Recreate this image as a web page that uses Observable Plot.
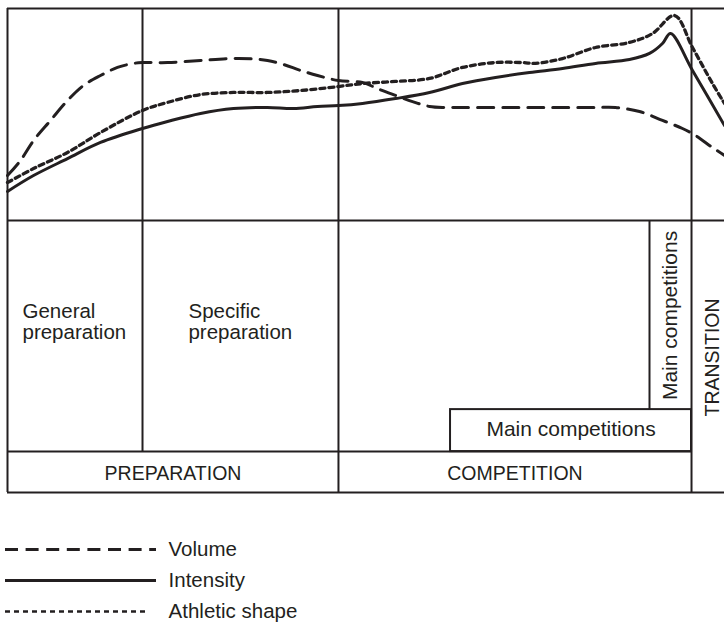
<!DOCTYPE html>
<html>
<head>
<meta charset="utf-8">
<script src="https://cdn.jsdelivr.net/npm/d3@7"></script>
<script src="https://cdn.jsdelivr.net/npm/@observablehq/plot@0.6"></script>
<style>
  html, body { margin: 0; padding: 0; background: #fff; }
  #chart svg, #legend svg { display: block; }
</style>
</head>
<body>
<div id="chart"></div>
<div id="legend"></div>
<script>
// ---- Data (time as % of visible season span, level as relative 0-100) ----
const series = ["Volume", "Intensity", "Athletic shape"];

const volumeX = [0, 1.81, 3.63, 6.0, 8.37, 10.6, 12.97, 15.34, 17.57, 18.83, 22.32, 26.92, 31.52, 34.31, 36.26, 38.49, 40.86, 43.24, 46.16, 49.51, 51.88, 54.11, 56.49, 58.86, 61.09, 63.46, 70.0, 76.0, 82.01, 84.8, 88.15, 91.35, 94.14, 95.96, 98.33, 100];
const volumeY = [21.2, 28.3, 37.7, 47.2, 56.6, 63.7, 68.4, 72.2, 74.1, 74.5, 74.5, 75.5, 76.4, 76.2, 75.5, 73.6, 70.8, 68.4, 66.0, 65.1, 61.8, 59.0, 56.1, 53.8, 53.3, 53.3, 53.3, 53.3, 53.3, 53.3, 51.4, 47.2, 43.4, 40.1, 34.4, 30.7];

const intensityX = [0, 3.63, 8.37, 12.97, 18.83, 22.32, 26.92, 31.52, 36.26, 39.89, 43.24, 46.16, 49.51, 54.11, 58.86, 63.46, 68.06, 72.8, 77.41, 82.01, 86.75, 89.54, 91.35, 92.47, 95.54, 100];
const intensityY = [13.7, 21.2, 29.2, 36.8, 43.4, 46.7, 50.5, 52.8, 53.3, 52.8, 53.8, 54.2, 55.2, 57.5, 60.4, 64.6, 67.5, 69.8, 71.7, 74.1, 75.9, 78.8, 83.5, 88.2, 70.8, 44.8];

const athleticX = [0, 3.63, 8.37, 12.97, 18.83, 22.32, 26.92, 31.52, 36.26, 40.86, 46.16, 49.51, 54.11, 58.86, 63.46, 68.06, 71.83, 73.64, 77.41, 82.01, 86.75, 89.96, 93.03, 95.54, 98.33, 100];
const athleticY = [17.9, 24.5, 32.1, 41.5, 51.9, 55.7, 59.4, 60.4, 60.4, 61.3, 63.2, 64.6, 65.6, 67.0, 72.2, 74.5, 74.5, 74.1, 76.4, 81.6, 84.0, 88.2, 96.7, 81.6, 64.6, 55.2];

const phaseNames = ["PREPARATION", "COMPETITION", "TRANSITION"];
const phaseStart = [0, 46.16, 95.4];
const phaseEnd = [46.16, 95.4, 100];

const subPhaseNames = ["General\npreparation", "Specific\npreparation"];
const subPhaseStart = [0, 18.83];
const subPhaseEnd = [18.83, 46.16];

const mainCompLabel = "Main competitions";
const mainCompStart = 61.79;  // main competitions block
const peakStart = 89.54;      // peak main competitions

// ---- Build tables ----
const toRows = (xs, ys, name) => xs.map((x, i) => ({x, y: ys[i], series: name}));
const volume = toRows(volumeX, volumeY, series[0]);
const intensity = toRows(intensityX, intensityY, series[1]);
const athletic = toRows(athleticX, athleticY, series[2]);

const phases = phaseNames.map((name, i) => ({name, start: phaseStart[i], end: phaseEnd[i]}));
const subPhases = subPhaseNames.map((name, i) => ({name, start: subPhaseStart[i], end: subPhaseEnd[i]}));

// layout levels of the lower table (same y scale, below the curve panel)
const tableBottom = -128.3;
const rowPhaseTop = -109;
const rowMainTop = -89.2;

const ink = "#231f20";
const fw = 2;
const font = "'Liberation Sans', Arial, Helvetica, sans-serif";
const fsCaps = 19.5;
const fsText = 20.5;
const fsMain = 21;

const chart = Plot.plot({
  width: 724,
  height: 500,
  marginLeft: 7,
  marginRight: 0,
  marginTop: 8,
  marginBottom: 8,
  x: {domain: [0, 100], axis: null},
  y: {domain: [tableBottom, 100], axis: null},
  style: {fontFamily: font, background: "white", color: ink, overflow: "visible"},
  marks: [
    // frame
    Plot.ruleY([100, 0, tableBottom], {x1: 0, x2: 100, stroke: ink, strokeWidth: fw}),
    Plot.ruleY([rowPhaseTop], {x1: 0, x2: phaseEnd[1], stroke: ink, strokeWidth: fw}),
    Plot.ruleX([0], {y1: tableBottom, y2: 100, stroke: ink, strokeWidth: fw}),
    Plot.ruleX([subPhases[1].start], {y1: rowPhaseTop, y2: 100, stroke: ink, strokeWidth: fw}),
    Plot.ruleX([phases[1].start, phases[2].start], {y1: tableBottom, y2: 100, stroke: ink, strokeWidth: fw}),
    Plot.rect([{x1: mainCompStart, x2: phases[1].end, y1: rowPhaseTop, y2: rowMainTop}],
      {x1: "x1", x2: "x2", y1: "y1", y2: "y2", fill: "none", stroke: ink, strokeWidth: fw}),
    Plot.ruleX([peakStart], {y1: rowMainTop, y2: 0, stroke: ink, strokeWidth: fw}),

    // curves
    Plot.line(volume, {x: "x", y: "y", curve: "catmull-rom", stroke: ink, strokeWidth: 3, strokeDasharray: "16,9"}),
    Plot.line(intensity, {x: "x", y: "y", curve: "catmull-rom", stroke: ink, strokeWidth: 3}),
    Plot.line(athletic, {x: "x", y: "y", curve: "catmull-rom", stroke: ink, strokeWidth: 3.3, strokeDasharray: "5,4"}),

    // labels
    Plot.text(subPhases, {x: (d, i) => d.start + (i === 0 ? 2.09 : 6.41), y: -47.6, text: "name",
      textAnchor: "start", lineAnchor: "middle", lineHeight: 1.02, fontSize: fsText, fill: ink}),
    Plot.text(phases.slice(0, 2), {x: d => (d.start + d.end) / 2, y: -119.5, text: "name",
      textAnchor: "middle", lineAnchor: "middle", fontSize: fsCaps, fill: ink}),
    Plot.text(phases.slice(2), {x: 98.4, y: -64.6, text: "name", rotate: -90,
      textAnchor: "middle", lineAnchor: "middle", fontSize: fsCaps, fill: ink}),
    Plot.text([mainCompLabel], {x: (mainCompStart + phases[1].end) / 2, y: -98.7, text: d => d,
      textAnchor: "middle", lineAnchor: "middle", fontSize: fsMain, fill: ink}),
    Plot.text([mainCompLabel], {x: (peakStart + phases[1].end) / 2, y: -44.8, text: d => d, rotate: -90,
      textAnchor: "middle", lineAnchor: "middle", fontSize: fsMain, fill: ink})
  ]
});
document.getElementById("chart").appendChild(chart);

const legend = Plot.plot({
  width: 724,
  height: 125,
  margin: 0,
  x: {domain: [0, 100], range: [5, 156], axis: null},
  y: {type: "point", domain: series, range: [49, 111], padding: 0, axis: null},
  style: {fontFamily: font, background: "white", color: ink, overflow: "visible"},
  marks: [
    Plot.ruleY([series[0]], {x1: 0, x2: 100, stroke: ink, strokeWidth: 3, strokeDasharray: "13,7.6"}),
    Plot.ruleY([series[1]], {x1: 0, x2: 100, stroke: ink, strokeWidth: 3}),
    Plot.ruleY([series[2]], {x1: 0, x2: 94, stroke: ink, strokeWidth: 2.6, strokeDasharray: "5,4"}),
    Plot.text(series, {x: 108, y: d => d, text: d => d, textAnchor: "start", lineAnchor: "middle", fontSize: fsText, fill: ink})
  ]
});
document.getElementById("legend").appendChild(legend);
</script>
</body>
</html>
